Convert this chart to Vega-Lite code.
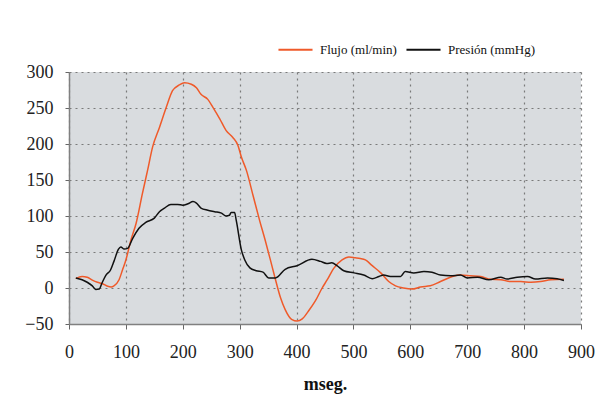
{
  "$schema": "https://vega.github.io/schema/vega-lite/v6.json",
  "width": 512,
  "height": 252,
  "autosize": "none",
  "padding": {"left": 69, "top": 72, "right": 32, "bottom": 76},
  "background": "white",
  "config": {
    "font": "Liberation Serif, Times New Roman, serif",
    "view": {"fill": "#d9dcdf", "stroke": null},
    "axis": {
      "labelFont": "Liberation Serif, Times New Roman, serif",
      "labelFontSize": 18,
      "labelColor": "#222",
      "domainColor": "#808080",
      "domainWidth": 1.5,
      "tickColor": "#666",
      "gridColor": "#7a7a7a",
      "gridDash": [2, 4],
      "gridWidth": 1.2
    },
    "legend": {
      "labelFont": "Liberation Serif, Times New Roman, serif"
    }
  },
  "data": {
    "values": [
      {"t": 12, "serie": "Flujo (ml/min)", "v": 13},
      {"t": 23, "serie": "Flujo (ml/min)", "v": 16},
      {"t": 32, "serie": "Flujo (ml/min)", "v": 15},
      {"t": 41, "serie": "Flujo (ml/min)", "v": 11},
      {"t": 50, "serie": "Flujo (ml/min)", "v": 8},
      {"t": 59, "serie": "Flujo (ml/min)", "v": 6},
      {"t": 68, "serie": "Flujo (ml/min)", "v": 2.5},
      {"t": 74, "serie": "Flujo (ml/min)", "v": 1.5},
      {"t": 79, "serie": "Flujo (ml/min)", "v": 3},
      {"t": 88, "serie": "Flujo (ml/min)", "v": 11.5},
      {"t": 94, "serie": "Flujo (ml/min)", "v": 25},
      {"t": 100, "serie": "Flujo (ml/min)", "v": 39},
      {"t": 109, "serie": "Flujo (ml/min)", "v": 67},
      {"t": 118, "serie": "Flujo (ml/min)", "v": 90},
      {"t": 129, "serie": "Flujo (ml/min)", "v": 131},
      {"t": 138, "serie": "Flujo (ml/min)", "v": 163},
      {"t": 147, "serie": "Flujo (ml/min)", "v": 196},
      {"t": 159, "serie": "Flujo (ml/min)", "v": 223},
      {"t": 171, "serie": "Flujo (ml/min)", "v": 251},
      {"t": 182, "serie": "Flujo (ml/min)", "v": 274},
      {"t": 194, "serie": "Flujo (ml/min)", "v": 282},
      {"t": 203, "serie": "Flujo (ml/min)", "v": 285},
      {"t": 215, "serie": "Flujo (ml/min)", "v": 283},
      {"t": 224, "serie": "Flujo (ml/min)", "v": 278},
      {"t": 232, "serie": "Flujo (ml/min)", "v": 269},
      {"t": 244, "serie": "Flujo (ml/min)", "v": 262},
      {"t": 253, "serie": "Flujo (ml/min)", "v": 251},
      {"t": 265, "serie": "Flujo (ml/min)", "v": 235},
      {"t": 276, "serie": "Flujo (ml/min)", "v": 219},
      {"t": 288, "serie": "Flujo (ml/min)", "v": 209},
      {"t": 297, "serie": "Flujo (ml/min)", "v": 198},
      {"t": 303, "serie": "Flujo (ml/min)", "v": 182},
      {"t": 312, "serie": "Flujo (ml/min)", "v": 163},
      {"t": 324, "serie": "Flujo (ml/min)", "v": 127},
      {"t": 335, "serie": "Flujo (ml/min)", "v": 94},
      {"t": 345, "serie": "Flujo (ml/min)", "v": 66},
      {"t": 354, "serie": "Flujo (ml/min)", "v": 39},
      {"t": 363, "serie": "Flujo (ml/min)", "v": 11.5},
      {"t": 372, "serie": "Flujo (ml/min)", "v": -14},
      {"t": 380, "serie": "Flujo (ml/min)", "v": -30},
      {"t": 392, "serie": "Flujo (ml/min)", "v": -44},
      {"t": 401, "serie": "Flujo (ml/min)", "v": -46},
      {"t": 410, "serie": "Flujo (ml/min)", "v": -43},
      {"t": 421, "serie": "Flujo (ml/min)", "v": -32},
      {"t": 433, "serie": "Flujo (ml/min)", "v": -18},
      {"t": 445, "serie": "Flujo (ml/min)", "v": 0},
      {"t": 454, "serie": "Flujo (ml/min)", "v": 11.5},
      {"t": 465, "serie": "Flujo (ml/min)", "v": 27},
      {"t": 480, "serie": "Flujo (ml/min)", "v": 39},
      {"t": 492, "serie": "Flujo (ml/min)", "v": 43},
      {"t": 503, "serie": "Flujo (ml/min)", "v": 42},
      {"t": 512, "serie": "Flujo (ml/min)", "v": 41},
      {"t": 521, "serie": "Flujo (ml/min)", "v": 39},
      {"t": 533, "serie": "Flujo (ml/min)", "v": 31},
      {"t": 548, "serie": "Flujo (ml/min)", "v": 21},
      {"t": 562, "serie": "Flujo (ml/min)", "v": 9},
      {"t": 574, "serie": "Flujo (ml/min)", "v": 3},
      {"t": 588, "serie": "Flujo (ml/min)", "v": 0},
      {"t": 603, "serie": "Flujo (ml/min)", "v": -1.5},
      {"t": 618, "serie": "Flujo (ml/min)", "v": 1.5},
      {"t": 635, "serie": "Flujo (ml/min)", "v": 3},
      {"t": 653, "serie": "Flujo (ml/min)", "v": 9},
      {"t": 674, "serie": "Flujo (ml/min)", "v": 16},
      {"t": 688, "serie": "Flujo (ml/min)", "v": 18},
      {"t": 706, "serie": "Flujo (ml/min)", "v": 17},
      {"t": 724, "serie": "Flujo (ml/min)", "v": 16},
      {"t": 741, "serie": "Flujo (ml/min)", "v": 12},
      {"t": 759, "serie": "Flujo (ml/min)", "v": 11.5},
      {"t": 776, "serie": "Flujo (ml/min)", "v": 9},
      {"t": 794, "serie": "Flujo (ml/min)", "v": 9},
      {"t": 812, "serie": "Flujo (ml/min)", "v": 8},
      {"t": 829, "serie": "Flujo (ml/min)", "v": 9},
      {"t": 847, "serie": "Flujo (ml/min)", "v": 11.5},
      {"t": 870, "serie": "Flujo (ml/min)", "v": 12},
      {"t": 12, "serie": "Presión (mmHg)", "v": 14},
      {"t": 23, "serie": "Presión (mmHg)", "v": 11.5},
      {"t": 32, "serie": "Presión (mmHg)", "v": 8},
      {"t": 41, "serie": "Presión (mmHg)", "v": 3},
      {"t": 47, "serie": "Presión (mmHg)", "v": -2},
      {"t": 53, "serie": "Presión (mmHg)", "v": -1.5},
      {"t": 58, "serie": "Presión (mmHg)", "v": 7},
      {"t": 65, "serie": "Presión (mmHg)", "v": 18},
      {"t": 73, "serie": "Presión (mmHg)", "v": 25},
      {"t": 79, "serie": "Presión (mmHg)", "v": 37},
      {"t": 87, "serie": "Presión (mmHg)", "v": 54},
      {"t": 91, "serie": "Presión (mmHg)", "v": 57},
      {"t": 97, "serie": "Presión (mmHg)", "v": 54},
      {"t": 103, "serie": "Presión (mmHg)", "v": 55},
      {"t": 112, "serie": "Presión (mmHg)", "v": 69},
      {"t": 123, "serie": "Presión (mmHg)", "v": 83},
      {"t": 135, "serie": "Presión (mmHg)", "v": 91},
      {"t": 150, "serie": "Presión (mmHg)", "v": 97},
      {"t": 159, "serie": "Presión (mmHg)", "v": 106},
      {"t": 168, "serie": "Presión (mmHg)", "v": 111},
      {"t": 179, "serie": "Presión (mmHg)", "v": 116},
      {"t": 191, "serie": "Presión (mmHg)", "v": 116},
      {"t": 200, "serie": "Presión (mmHg)", "v": 115},
      {"t": 209, "serie": "Presión (mmHg)", "v": 117},
      {"t": 218, "serie": "Presión (mmHg)", "v": 120},
      {"t": 224, "serie": "Presión (mmHg)", "v": 118},
      {"t": 232, "serie": "Presión (mmHg)", "v": 111},
      {"t": 244, "serie": "Presión (mmHg)", "v": 108},
      {"t": 256, "serie": "Presión (mmHg)", "v": 106},
      {"t": 268, "serie": "Presión (mmHg)", "v": 104},
      {"t": 276, "serie": "Presión (mmHg)", "v": 100},
      {"t": 282, "serie": "Presión (mmHg)", "v": 101},
      {"t": 285, "serie": "Presión (mmHg)", "v": 105},
      {"t": 291, "serie": "Presión (mmHg)", "v": 105},
      {"t": 294, "serie": "Presión (mmHg)", "v": 94},
      {"t": 303, "serie": "Presión (mmHg)", "v": 53},
      {"t": 309, "serie": "Presión (mmHg)", "v": 39},
      {"t": 318, "serie": "Presión (mmHg)", "v": 28},
      {"t": 329, "serie": "Presión (mmHg)", "v": 24},
      {"t": 341, "serie": "Presión (mmHg)", "v": 22},
      {"t": 351, "serie": "Presión (mmHg)", "v": 14},
      {"t": 363, "serie": "Presión (mmHg)", "v": 14},
      {"t": 380, "serie": "Presión (mmHg)", "v": 26},
      {"t": 401, "serie": "Presión (mmHg)", "v": 31},
      {"t": 427, "serie": "Presión (mmHg)", "v": 40},
      {"t": 442, "serie": "Presión (mmHg)", "v": 37},
      {"t": 453, "serie": "Presión (mmHg)", "v": 34},
      {"t": 462, "serie": "Presión (mmHg)", "v": 35},
      {"t": 471, "serie": "Presión (mmHg)", "v": 31},
      {"t": 483, "serie": "Presión (mmHg)", "v": 24},
      {"t": 501, "serie": "Presión (mmHg)", "v": 21},
      {"t": 518, "serie": "Presión (mmHg)", "v": 18},
      {"t": 533, "serie": "Presión (mmHg)", "v": 13},
      {"t": 545, "serie": "Presión (mmHg)", "v": 16},
      {"t": 553, "serie": "Presión (mmHg)", "v": 18},
      {"t": 565, "serie": "Presión (mmHg)", "v": 16},
      {"t": 583, "serie": "Presión (mmHg)", "v": 16},
      {"t": 591, "serie": "Presión (mmHg)", "v": 23},
      {"t": 606, "serie": "Presión (mmHg)", "v": 21},
      {"t": 624, "serie": "Presión (mmHg)", "v": 23},
      {"t": 638, "serie": "Presión (mmHg)", "v": 22},
      {"t": 653, "serie": "Presión (mmHg)", "v": 18},
      {"t": 671, "serie": "Presión (mmHg)", "v": 17},
      {"t": 688, "serie": "Presión (mmHg)", "v": 18},
      {"t": 700, "serie": "Presión (mmHg)", "v": 14},
      {"t": 718, "serie": "Presión (mmHg)", "v": 15},
      {"t": 738, "serie": "Presión (mmHg)", "v": 11.5},
      {"t": 759, "serie": "Presión (mmHg)", "v": 15},
      {"t": 770, "serie": "Presión (mmHg)", "v": 12.5},
      {"t": 788, "serie": "Presión (mmHg)", "v": 15},
      {"t": 806, "serie": "Presión (mmHg)", "v": 16},
      {"t": 820, "serie": "Presión (mmHg)", "v": 12.5},
      {"t": 841, "serie": "Presión (mmHg)", "v": 14},
      {"t": 858, "serie": "Presión (mmHg)", "v": 13},
      {"t": 870, "serie": "Presión (mmHg)", "v": 10.5}
    ]
  },
  "mark": {"type": "line", "strokeWidth": 1.5, "interpolate": "monotone"},
  "encoding": {
    "x": {
      "field": "t",
      "type": "quantitative",
      "scale": {"domain": [0, 900], "nice": false, "zero": false},
      "axis": {
        "values": [0, 100, 200, 300, 400, 500, 600, 700, 800, 900],
        "title": "mseg.",
        "labelFont": "Liberation Serif",
        "titleFont": "Liberation Serif",
        "titleFontSize": 18,
        "titleFontWeight": "bold",
        "titleColor": "#111",
        "titlePadding": 14,
        "tickSize": 5,
        "labelPadding": 14,
        "labelFlush": false
      }
    },
    "y": {
      "field": "v",
      "type": "quantitative",
      "scale": {"domain": [-50, 300], "nice": false, "zero": false},
      "axis": {
        "values": [-50, 0, 50, 100, 150, 200, 250, 300],
        "title": null,
        "labelFont": "Liberation Serif",
        "tickSize": 4,
        "labelPadding": 12
      }
    },
    "color": {
      "field": "serie",
      "type": "nominal",
      "scale": {"domain": ["Flujo (ml/min)", "Presión (mmHg)"], "range": ["#ef5a2a", "#111111"]},
      "legend": {
        "title": null,
        "orient": "none",
        "legendX": 208,
        "legendY": -41,
        "direction": "horizontal",
        "symbolType": "stroke",
        "symbolSize": 1160,
        "symbolStrokeWidth": 2,
        "labelFont": "Liberation Serif",
        "labelFontSize": 13,
        "labelColor": "#111",
        "labelOffset": 6,
        "columnPadding": 5
      }
    }
  }
}
